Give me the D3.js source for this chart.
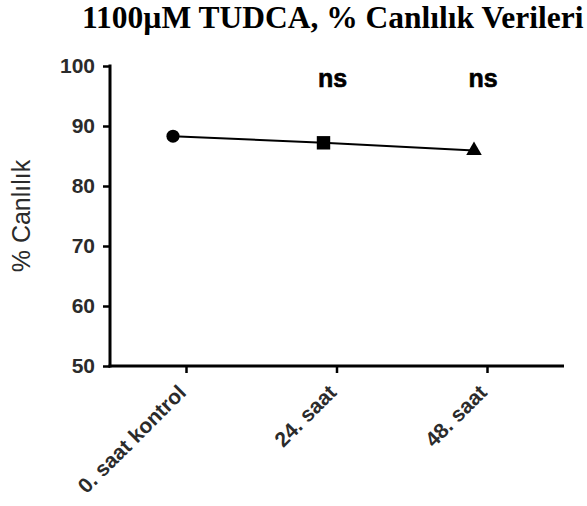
<!DOCTYPE html>
<html>
<head>
<meta charset="utf-8">
<script src="https://cdn.jsdelivr.net/npm/d3@7"></script>
<style>
  html, body { margin: 0; padding: 0; background: #fff; }
  svg { display: block; }
</style>
</head>
<body>
<svg id="chart" width="587" height="506"></svg>
<script>
// Viability data (% Canlılık) for 1100 µM TUDCA
const categories = ["0. saat kontrol", "24. saat", "48. saat"];
const viability = [88.3, 87.2, 85.9];
const markers = ["circle", "square", "triangle"];
const significance = ["", "ns", "ns"];
const yTicks = [50, 60, 70, 80, 90, 100];

const svg = d3.select("#chart");
const margin = { left: 110, right: 23, top: 66, bottom: 140 };
const W = 587, H = 506;
const axisColor = "#000";
const labelColor = "#2b2b2b";
const sans = "Liberation Sans, Arial, sans-serif";

const x = d3.scalePoint()
  .domain(categories)
  .range([186, 487]);
const pointShift = -13; // symbols sit slightly left of their tick
const y = d3.scaleLinear()
  .domain([50, 100])
  .range([H - margin.bottom, margin.top]);

// Title
svg.append("text")
  .attr("x", 82)
  .attr("y", 28)
  .attr("font-family", "Liberation Serif, Times New Roman, serif")
  .attr("font-weight", "bold")
  .attr("font-size", 31.5)
  .attr("fill", "#000")
  .text("1100µM TUDCA, % Canlılık Verileri");

// Y axis
const yAxis = svg.append("g")
  .attr("transform", `translate(${margin.left},0)`)
  .call(d3.axisLeft(y).tickValues(yTicks).tickSize(7).tickSizeOuter(0).tickPadding(8));
yAxis.select(".domain").attr("stroke", axisColor).attr("stroke-width", 3)
  .attr("d", `M0,${y(100) - 1.5}V${y(50) + 1.5}`);
yAxis.selectAll(".tick line").attr("stroke", axisColor).attr("stroke-width", 2.5);
yAxis.selectAll(".tick text")
  .attr("font-family", sans)
  .attr("font-weight", "bold")
  .attr("font-size", 21)
  .attr("fill", labelColor);

// X axis
const xAxis = svg.append("g")
  .attr("transform", `translate(0,${y(50)})`)
  .call(d3.axisBottom(x).tickSize(7).tickSizeOuter(0).tickPadding(4));
xAxis.select(".domain").attr("stroke", axisColor).attr("stroke-width", 3)
  .attr("d", `M${margin.left - 1.5},0H${W - margin.right}`);
xAxis.selectAll(".tick line").attr("stroke", axisColor).attr("stroke-width", 2.5);
xAxis.selectAll(".tick text")
  .attr("font-family", sans)
  .attr("font-weight", "bold")
  .attr("font-size", 21)
  .attr("fill", labelColor)
  .attr("text-anchor", "end")
  .attr("dy", 0)
  .attr("transform", "translate(-7,20) rotate(-45)");

// Y axis title
svg.append("text")
  .attr("transform", `translate(30,${(y(50) + y(100)) / 2}) rotate(-90)`)
  .attr("text-anchor", "middle")
  .attr("font-family", sans)
  .attr("font-size", 25)
  .attr("fill", labelColor)
  .text("% Canlılık");

// Connecting line
const data = categories.map((c, i) => ({ c, v: viability[i], m: markers[i], s: significance[i] }));
svg.append("path")
  .datum(data)
  .attr("fill", "none")
  .attr("stroke", "#000")
  .attr("stroke-width", 2)
  .attr("d", d3.line().x(d => x(d.c) + pointShift).y(d => y(d.v)));

// Markers
const symbolType = { circle: d3.symbolCircle, square: d3.symbolSquare, triangle: d3.symbolTriangle };
const symbolSize = { circle: 135, square: 180, triangle: 105 };
svg.selectAll(".pt")
  .data(data)
  .join("path")
  .attr("class", "pt")
  .attr("transform", d => `translate(${x(d.c) + pointShift},${y(d.v)})`)
  .attr("d", d => d3.symbol().type(symbolType[d.m]).size(symbolSize[d.m])())
  .attr("fill", "#000");

// Significance labels
svg.selectAll(".sig")
  .data(data.filter(d => d.s))
  .join("text")
  .attr("class", "sig")
  .attr("x", d => x(d.c) - 4)
  .attr("y", 87)
  .attr("text-anchor", "middle")
  .attr("font-family", sans)
  .attr("font-weight", "bold")
  .attr("font-size", 25)
  .attr("fill", "#000")
  .attr("stroke", "#000")
  .attr("stroke-width", 0.6)
  .text(d => d.s);
</script>
</body>
</html>
